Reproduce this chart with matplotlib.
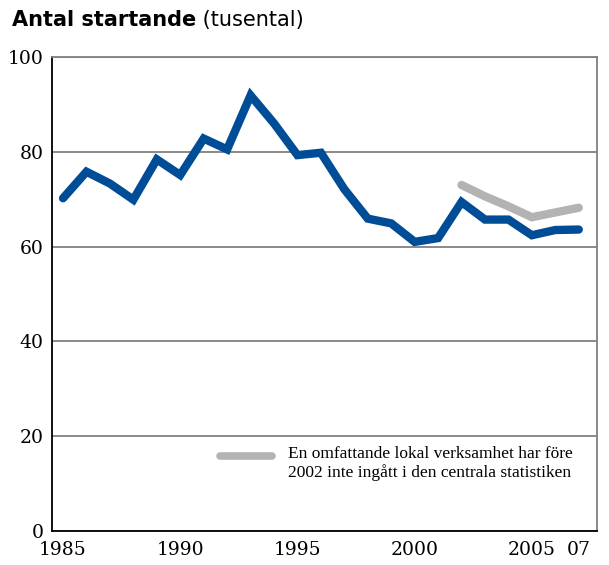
import numpy as np
import matplotlib.pyplot as plt

years = list(range(1985, 2008))
startande = [70.2, 75.8, 73.3, 69.9, 78.4, 75.1, 82.8, 80.5, 91.9, 86.0, 79.3, 79.8,
             72.1, 65.9, 64.9, 61.0, 61.8, 69.4, 65.7, 65.7, 62.4, 63.5, 63.6]
years_ny = list(range(2002, 2008))
startande_ny = [73.0, 70.6, 68.5, 66.2, 67.2, 68.2]
legend_text = 'En omfattande lokal verksamhet har före\n2002 inte ingått i den centrala statistiken'
xticks = [1985, 1990, 1995, 2000, 2005, 2007]
xticklabels = ['1985', '1990', '1995', '2000', '2005', '07']
yticks = [0, 20, 40, 60, 80, 100]

BLUE = '#004d97'
GRAY = '#b3b3b3'

fig = plt.figure(figsize=(6.09, 5.65), dpi=100)
ax = fig.add_axes([0.0854, 0.0602, 0.8946, 0.8389])

ax.plot(years_ny, startande_ny, color=GRAY, lw=6, solid_capstyle='round',
        solid_joinstyle='miter', label=legend_text, zorder=3)
ax.plot(years, startande, color=BLUE, lw=6, solid_capstyle='round',
        solid_joinstyle='miter', zorder=4)

ax.set_xlim(1984.53, 2007.77)
ax.set_ylim(0, 100)
ax.set_yticks(yticks)
ax.set_xticks(xticks)
ax.set_xticklabels(xticklabels)
for lbl in ax.get_xticklabels() + ax.get_yticklabels():
    lbl.set_family('DejaVu Serif')
    lbl.set_fontsize(13.5)
ax.tick_params(length=0, pad=6)
ax.tick_params(axis='x', pad=7)
ax.grid(axis='y', color='#808080', lw=1.3)
ax.set_axisbelow(True)

ax.spines['left'].set_color('black')
ax.spines['bottom'].set_color('black')
ax.spines['left'].set_linewidth(1.3)
ax.spines['bottom'].set_linewidth(1.3)
ax.spines['right'].set_color('#808080')
ax.spines['top'].set_color('#808080')
ax.spines['right'].set_linewidth(1.3)
ax.spines['top'].set_linewidth(1.3)

leg = ax.legend(loc='lower left', bbox_to_anchor=(0.308, 0.105), frameon=False,
                borderpad=0, borderaxespad=0,
                handlelength=3.0, handletextpad=0.9, labelspacing=0.2,
                prop={'family': 'Liberation Serif', 'size': 12.5})
hl = leg.get_lines()[0]
hl.set_linewidth(5.5)
hl.set_ydata(np.asarray(hl.get_ydata()) + 5)

t1 = fig.text(0.02, 0.965, 'Antal startande', fontsize=15, fontweight='bold',
              family='DejaVu Sans', va='center', ha='left')
ax.annotate(' (tusental)', xy=(1, 0.5), xycoords=t1, va='center', ha='left',
            fontsize=15, family='DejaVu Sans')

fig.savefig('out.png', dpi=100)
